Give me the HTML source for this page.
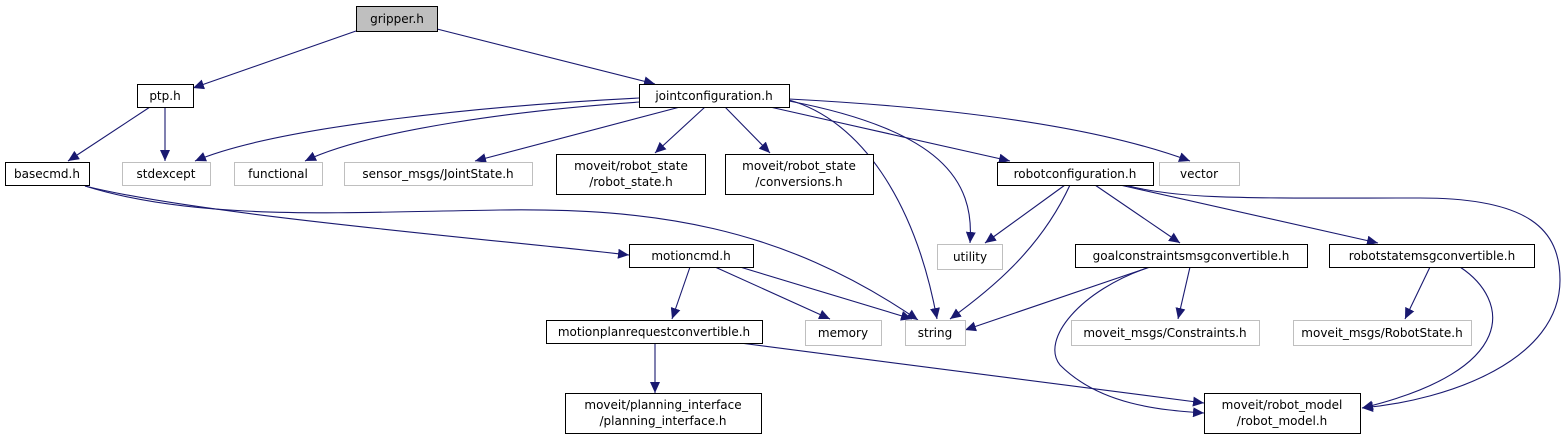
<!DOCTYPE html>
<html><head><meta charset="utf-8"><style>
html,body{margin:0;padding:0;background:#fff;}
svg text{font-family:"DejaVu Sans","Liberation Sans",sans-serif;font-size:12px;fill:#000;}
</style></head><body>
<svg width="1563" height="440" viewBox="0 0 1563 440" xmlns="http://www.w3.org/2000/svg">
<defs><marker id="a" markerUnits="userSpaceOnUse" markerWidth="12" markerHeight="10" refX="11" refY="5" orient="auto"><path d="M0,0 L11,5 L0,10 Z" fill="#191970"/></marker></defs>
<g fill="none" stroke="#191970" stroke-width="1.1" marker-end="url(#a)">
<path d="M356,31 L193,88"/>
<path d="M437,29 L655,84"/>
<path d="M150,107 L68,161"/>
<path d="M165,107 L165,161"/>
<path d="M639,98 C500,105 280,125 195,161"/>
<path d="M640,102 C520,110 370,130 305,161"/>
<path d="M680,107 L475,161"/>
<path d="M705,107 L655,153"/>
<path d="M725,107 L770,153"/>
<path d="M789,100 C860,120 915,200 937,319"/>
<path d="M789,101 C940,130 975,180 970,243"/>
<path d="M770,107 L1010,161"/>
<path d="M789,99 C1000,110 1120,135 1190,161"/>
<path d="M85,186 C200,222 350,212 500,210 C650,208 780,225 918,320"/>
<path d="M85,186 C200,215 500,240 629,255"/>
<path d="M690,267 L672,319"/>
<path d="M715,267 L830,319"/>
<path d="M740,267 L912,319"/>
<path d="M655,343 L655,393"/>
<path d="M740,343 L1204,403"/>
<path d="M1065,185 L985,243"/>
<path d="M1070,185 C1040,250 990,290 950,319"/>
<path d="M1095,185 L1180,243"/>
<path d="M1120,185 L1378,243"/>
<path d="M1125,185 C1180,200 1250,198 1420,198 C1530,198 1560,230 1560,280 C1560,360 1450,400 1362,408"/>
<path d="M1150,267 L965,330"/>
<path d="M1150,267 C1080,290 1040,340 1060,365 C1100,405 1160,410 1204,413"/>
<path d="M1190,267 L1178,319"/>
<path d="M1430,267 L1405,319"/>
<path d="M1460,267 C1510,300 1520,370 1362,408"/>
</g>
<g stroke-width="1">
<rect x="356.5" y="6.5" width="81" height="25" fill="#bfbfbf" stroke="#000"/>
<rect x="137.5" y="84.5" width="56" height="23" fill="#fff" stroke="#000"/>
<rect x="639.5" y="84.5" width="150" height="23" fill="#fff" stroke="#000"/>
<rect x="5.5" y="162.5" width="84" height="23" fill="#fff" stroke="#000"/>
<rect x="122.5" y="162.5" width="88" height="23" fill="#fff" stroke="#bfbfbf"/>
<rect x="234.5" y="162.5" width="88" height="23" fill="#fff" stroke="#bfbfbf"/>
<rect x="344.5" y="162.5" width="188" height="23" fill="#fff" stroke="#bfbfbf"/>
<rect x="556.5" y="154.5" width="149" height="40" fill="#fff" stroke="#000"/>
<rect x="725.5" y="154.5" width="148" height="40" fill="#fff" stroke="#000"/>
<rect x="997.5" y="162.5" width="156" height="23" fill="#fff" stroke="#000"/>
<rect x="1159.5" y="162.5" width="80" height="23" fill="#fff" stroke="#bfbfbf"/>
<rect x="937.5" y="244.5" width="65" height="25" fill="#fff" stroke="#bfbfbf"/>
<rect x="629.5" y="244.5" width="124" height="23" fill="#fff" stroke="#000"/>
<rect x="1075.5" y="244.5" width="232" height="23" fill="#fff" stroke="#000"/>
<rect x="1329.5" y="244.5" width="205" height="23" fill="#fff" stroke="#000"/>
<rect x="546.5" y="320.5" width="216" height="23" fill="#fff" stroke="#000"/>
<rect x="805.5" y="320.5" width="76" height="25" fill="#fff" stroke="#bfbfbf"/>
<rect x="905.5" y="320.5" width="60" height="25" fill="#fff" stroke="#bfbfbf"/>
<rect x="1071.5" y="320.5" width="188" height="25" fill="#fff" stroke="#bfbfbf"/>
<rect x="1293.5" y="320.5" width="178" height="25" fill="#fff" stroke="#bfbfbf"/>
<rect x="565.5" y="393.5" width="196" height="40" fill="#fff" stroke="#000"/>
<rect x="1204.5" y="393.5" width="156" height="40" fill="#fff" stroke="#000"/>
</g>
<g text-anchor="middle">
<text x="397" y="23">gripper.h</text>
<text x="165" y="100">ptp.h</text>
<text x="714" y="100">jointconfiguration.h</text>
<text x="47" y="178">basecmd.h</text>
<text x="166" y="178">stdexcept</text>
<text x="278" y="178">functional</text>
<text x="438" y="178">sensor_msgs/JointState.h</text>
<text x="631" y="170">moveit/robot_state</text>
<text x="631" y="186">/robot_state.h</text>
<text x="799" y="170">moveit/robot_state</text>
<text x="799" y="186">/conversions.h</text>
<text x="1075" y="178">robotconfiguration.h</text>
<text x="1199" y="178">vector</text>
<text x="970" y="261">utility</text>
<text x="691" y="260">motioncmd.h</text>
<text x="1191" y="260">goalconstraintsmsgconvertible.h</text>
<text x="1432" y="260">robotstatemsgconvertible.h</text>
<text x="654" y="336">motionplanrequestconvertible.h</text>
<text x="843" y="337">memory</text>
<text x="935" y="337">string</text>
<text x="1165" y="337">moveit_msgs/Constraints.h</text>
<text x="1382" y="337">moveit_msgs/RobotState.h</text>
<text x="663" y="409">moveit/planning_interface</text>
<text x="663" y="425">/planning_interface.h</text>
<text x="1282" y="409">moveit/robot_model</text>
<text x="1282" y="425">/robot_model.h</text>
</g>
</svg>
</body></html>
